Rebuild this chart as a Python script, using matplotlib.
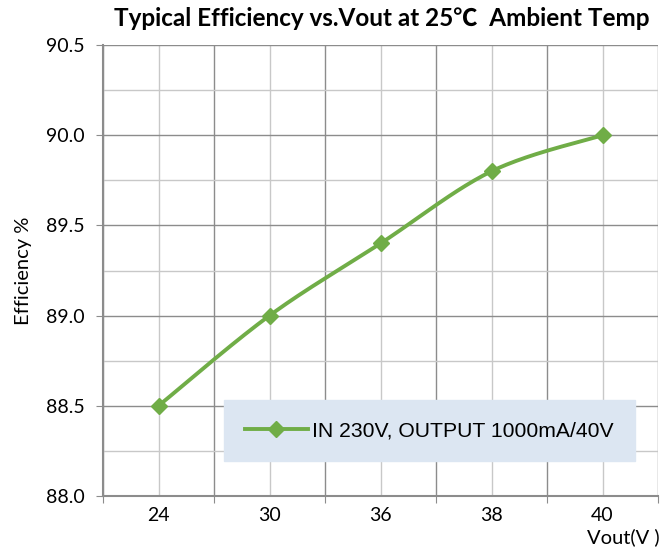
import numpy as np
import matplotlib.pyplot as plt
from matplotlib.ticker import MultipleLocator, FixedLocator

vout = ["24", "30", "36", "38", "40"]
efficiency = [88.5, 89.0, 89.4, 89.8, 90.0]
series_label = "IN 230V, OUTPUT 1000mA/40V"

GREEN = "#70AD47"


def smooth_curve(x, y, n=40):
    # Catmull-Rom style bezier, similar to Excel's "smoothed line"
    x = np.asarray(x, float)
    y = np.asarray(y, float)
    px = np.concatenate([[x[0]], x, [x[-1]]])
    py = np.concatenate([[y[0]], y, [y[-1]]])
    xs, ys = [], []
    t = np.linspace(0, 1, n)
    for i in range(1, len(px) - 2):
        p0 = np.array([px[i], py[i]])
        p3 = np.array([px[i + 1], py[i + 1]])
        c1 = p0 + (np.array([px[i + 1], py[i + 1]]) - np.array([px[i - 1], py[i - 1]])) / 6
        c2 = p3 - (np.array([px[i + 2], py[i + 2]]) - np.array([px[i], py[i]])) / 6
        b = ((1 - t) ** 3)[:, None] * p0 + (3 * (1 - t) ** 2 * t)[:, None] * c1 \
            + (3 * (1 - t) * t ** 2)[:, None] * c2 + (t ** 3)[:, None] * p3
        xs.extend(b[:, 0])
        ys.extend(b[:, 1])
    return np.array(xs), np.array(ys)


fig = plt.figure(figsize=(6.67, 5.53), dpi=100)
ax = fig.add_axes([103 / 667, 57 / 553, 555 / 667, 451 / 553])

pos = np.arange(len(vout))
sx, sy = smooth_curve(pos, efficiency)
ax.plot(sx, sy, color=GREEN, lw=2.8, solid_capstyle="round", zorder=3)
ax.plot(pos, efficiency, ls="none", marker="D", ms=8, color=GREEN, zorder=4)

ax.set_xlim(-0.5, len(vout) - 0.5)
ax.set_ylim(88.0, 90.5)

ax.xaxis.set_major_locator(FixedLocator(np.arange(-0.5, len(vout), 1.0)))
ax.set_xticklabels([])
ax.set_xticks(pos, minor=True)
ax.set_xticklabels(vout, minor=True)
ax.yaxis.set_major_locator(MultipleLocator(0.5))
ax.yaxis.set_minor_locator(MultipleLocator(0.25))
ax.yaxis.set_major_formatter(plt.FuncFormatter(lambda v, p: f"{v:.1f}"))

ax.grid(True, which="major", color="#8C8C8C", lw=1.0, zorder=0)
ax.grid(True, which="minor", color="#C8C8C8", lw=1.0, zorder=0)

ax.tick_params(axis="x", which="major", length=5, color="#8C8C8C", direction="out")
ax.tick_params(axis="x", which="minor", length=0, labelsize=14, pad=8)
ax.tick_params(axis="y", which="major", length=5, color="#8C8C8C", labelsize=14, pad=8)
ax.tick_params(axis="y", which="minor", length=0)
for lab in ax.get_xticklabels(minor=True) + ax.get_yticklabels():
    lab.set_family("Lato")

for s in ax.spines.values():
    s.set_color("#8C8C8C")
    s.set_linewidth(1.5)
ax.spines["top"].set_visible(False)
ax.spines["right"].set_visible(False)

ax.set_ylabel("Efficiency %", fontsize=14.5, family="Lato", labelpad=10)
fig.text(660 / 667, 1 - 537 / 553, "Vout(V )", ha="right", va="center", fontsize=14.5, family="Lato")

fig.text(382 / 667, 1 - 19 / 553, "Typical Efficiency vs.Vout at 25\u2103  Ambient Temp",
         ha="center", va="center", fontsize=17.5, fontweight="bold",
         family=["Lato", "Noto Sans CJK SC", "DejaVu Sans"])

leg = ax.legend([plt.Line2D([], [], color=GREEN, lw=2.8, marker="D", ms=8)], [series_label],
                loc="center", bbox_to_anchor=(0.588, 0.145),
                frameon=True, fancybox=False, framealpha=1, borderpad=1.0,
                handlelength=3.0, handletextpad=0.2, borderaxespad=0,
                prop={"family": "Liberation Sans", "size": 15.2})
leg.get_frame().set_facecolor("#DCE6F2")
leg.get_frame().set_edgecolor("#DCE6F2")

fig.savefig("out.png", dpi=100)
